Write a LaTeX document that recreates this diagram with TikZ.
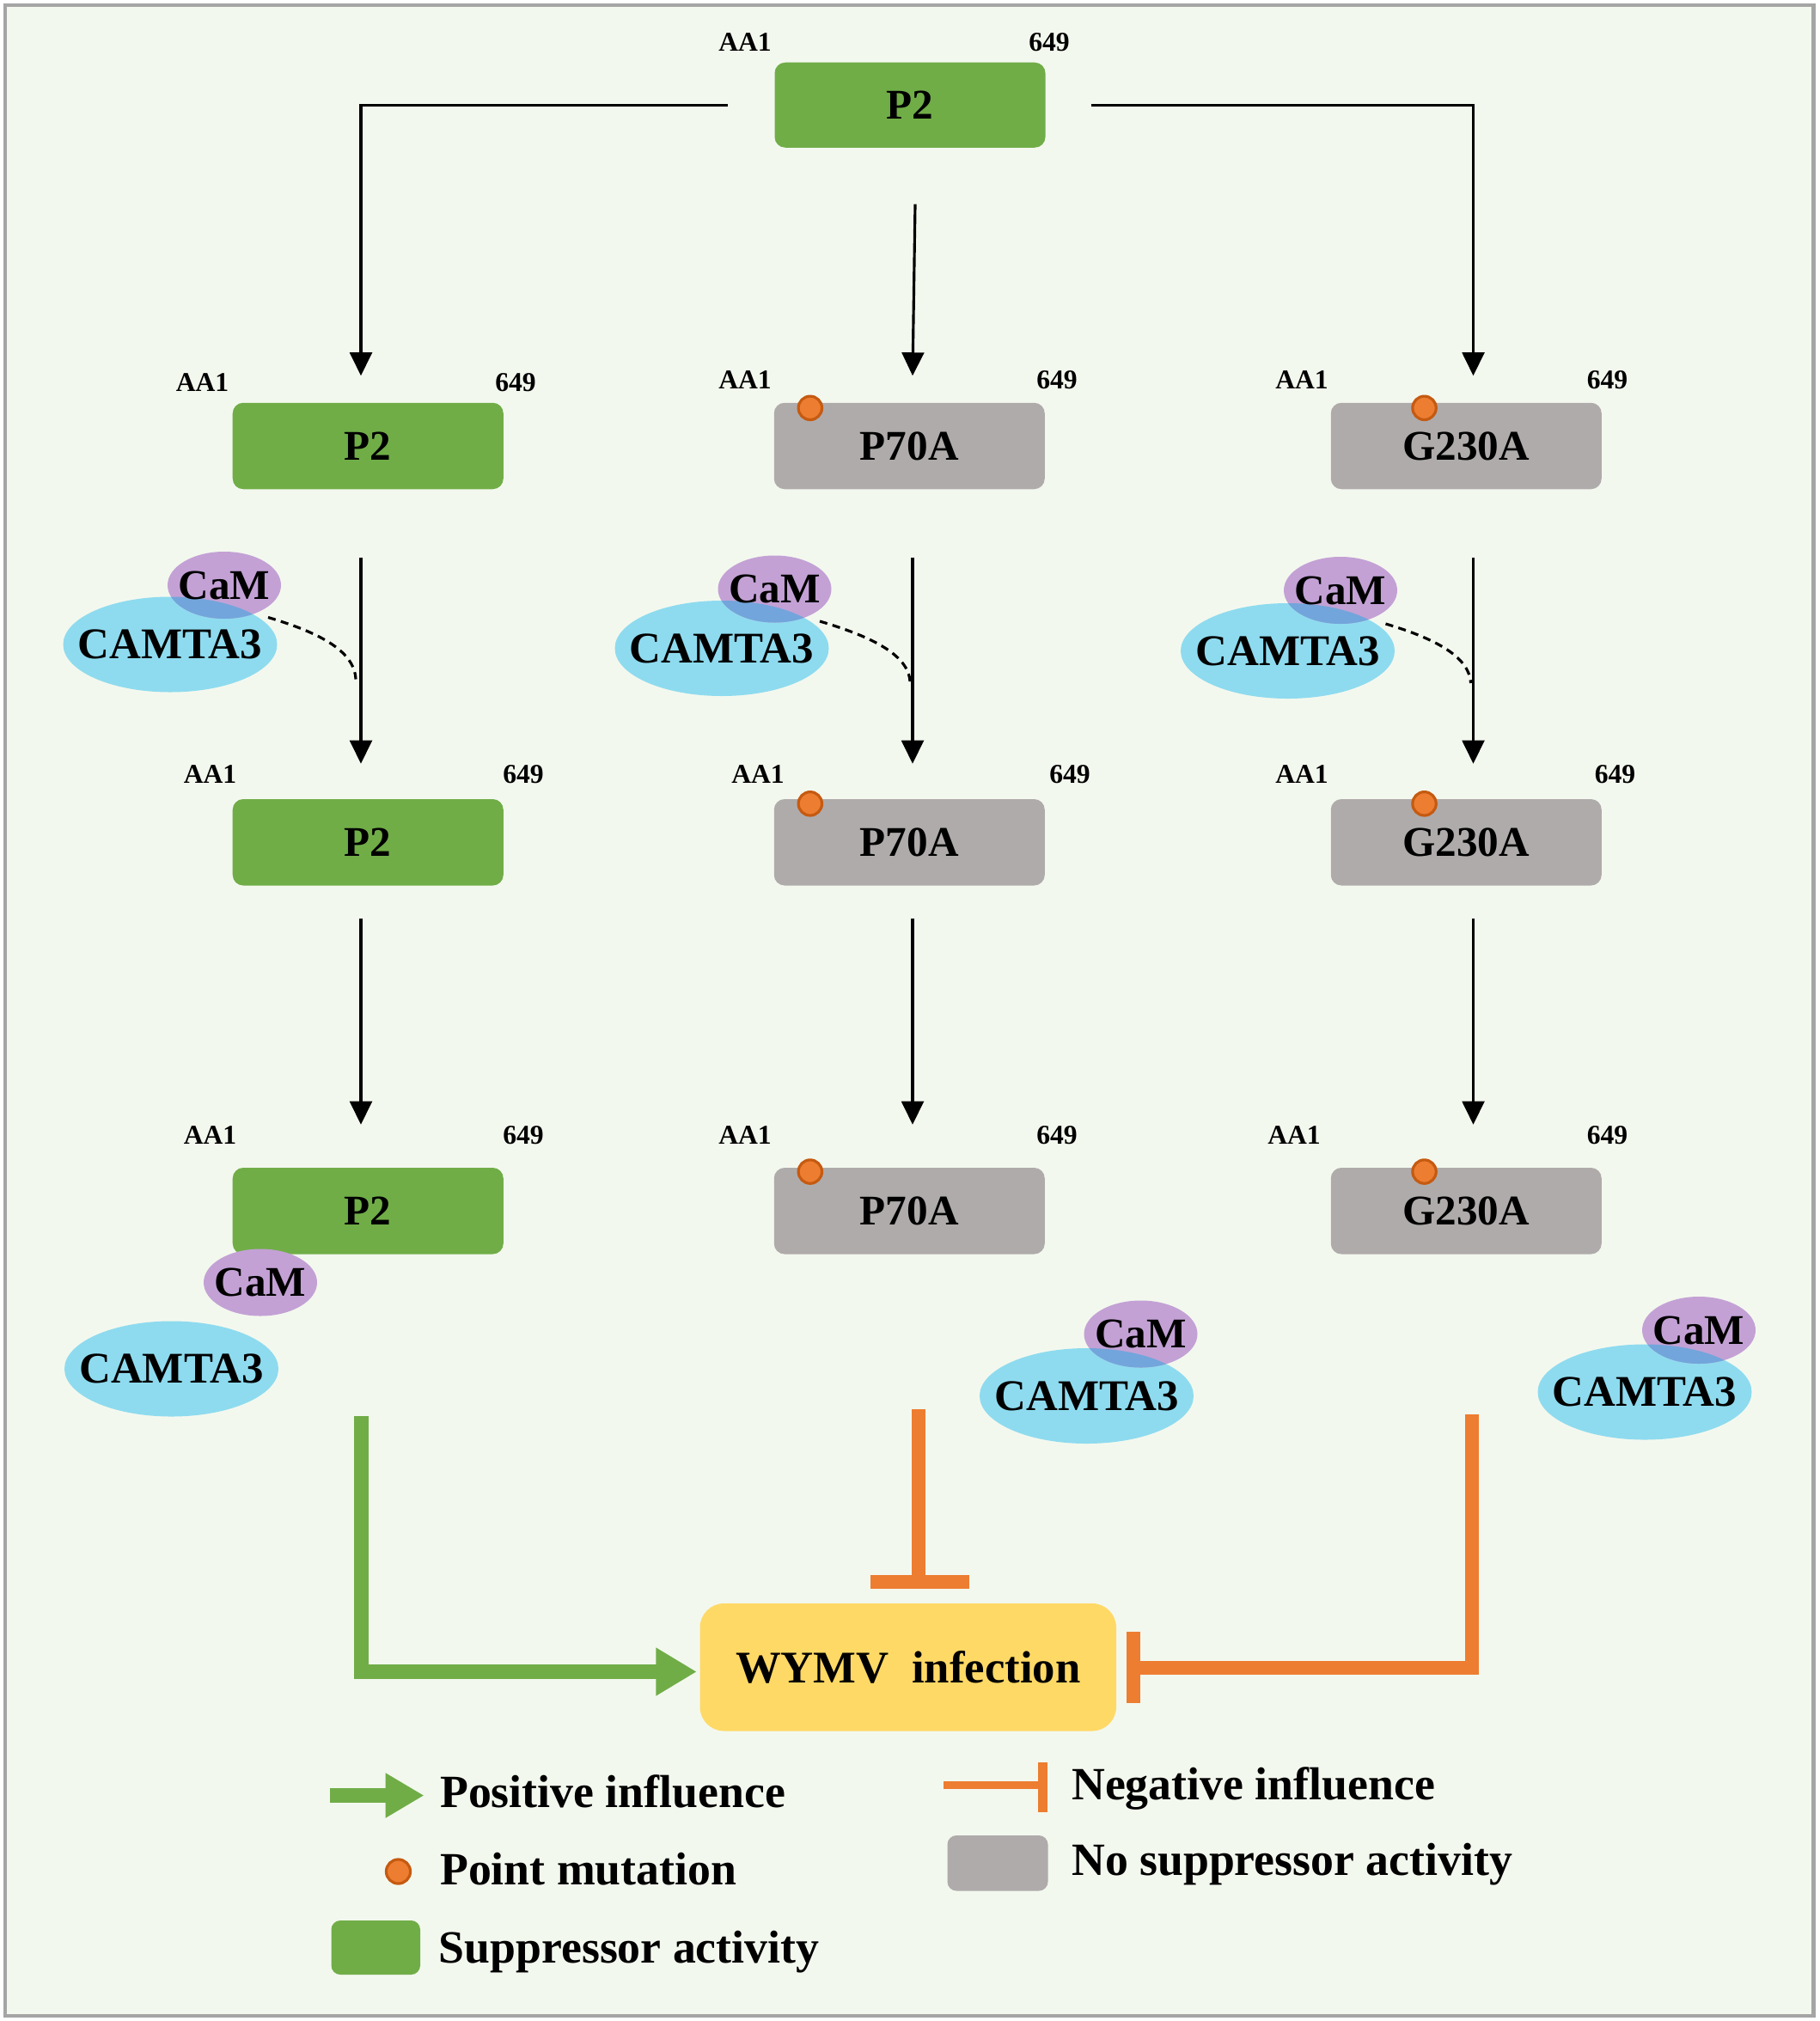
\documentclass[tikz,border=0pt]{standalone}
\usepackage{fontspec}
\setmainfont{Liberation Serif}
\usetikzlibrary{arrows.meta,shapes.geometric,calc}
\definecolor{bgc}{HTML}{F3F8EE}
\definecolor{frm}{HTML}{A5A5A5}
\definecolor{grn}{HTML}{70AD47}
\definecolor{gry}{HTML}{AFABAB}
\definecolor{org}{HTML}{ED7D31}
\definecolor{orgd}{HTML}{C55A11}
\definecolor{ylw}{HTML}{FFD966}
\definecolor{cblue}{HTML}{8EDBEF}
\definecolor{cpur}{HTML}{C3A1D5}
\definecolor{cmix}{HTML}{72A5DB}
\newcommand{\camplex}[5]{%
  \node[camta] (#1k) at (#2,#3) {};
  \node[cam] (#1m) at (#4,#5) {};
  \begin{scope}
    \clip (#2,#3) ellipse [x radius=83,y radius=37];
    \fill[cmix] (#4,#5) ellipse [x radius=44,y radius=26];
  \end{scope}
  \node[camtxt] (#1kt) at (#1k) {CAMTA3};
  \node[camtxtb] (#1mt) at (#1m) {CaM};
}
\begin{document}
\begin{tikzpicture}[x=0.015cm,y=-0.015cm,
  pbox/.style={rectangle,rounded corners=3.5pt,minimum width=3.15cm,minimum height=1.005cm,inner sep=0pt,font=\fontsize{14}{16}\selectfont\bfseries},
  supbox/.style={pbox,fill=grn},
  nobox/.style={pbox,fill=gry},
  aalab/.style={inner sep=0pt,font=\fontsize{9}{10}\selectfont\bfseries},
  mutdot/.style={circle,fill=org,draw=orgd,line width=0.9pt,minimum size=7.8pt,inner sep=0pt},
  camta/.style={ellipse,fill=cblue,minimum width=2.49cm,minimum height=1.11cm,inner sep=0pt},
  cam/.style={ellipse,fill=cpur,minimum width=1.32cm,minimum height=0.78cm,inner sep=0pt},
  camtxt/.style={inner sep=0pt,font=\fontsize{14.5}{16}\selectfont\bfseries},
  camtxtb/.style={inner sep=0pt,font=\fontsize{14}{16}\selectfont\bfseries},
  arr/.style={line width=0.9pt,-{Triangle[length=7.7pt,width=7.3pt]}},
  dsh/.style={line width=0.9pt,dash pattern=on 2.6pt off 1.8pt},
  posline/.style={grn,line width=4.8pt,-{Triangle[length=13.5pt,width=15pt]}},
  negline/.style={org,line width=4.6pt},
  legtxt/.style={inner sep=0pt,anchor=base west,font=\fontsize{15.3}{18}\selectfont\bfseries}
]
% background and frame
\fill[white] (0,0) rectangle (1412,1568);
\draw[frm,line width=1.3pt,fill=bgc] (4,4) rectangle (1407,1564);
\useasboundingbox (0,0) rectangle (1412,1568);

% boxes
\node[supbox,minimum height=0.99cm] (t) at (706,81.5) {P2};
\node[supbox] (a2) at (285.5,346) {P2};
\node[nobox]  (b2) at (705.5,346) {P70A};
\node[nobox]  (c2) at (1137.5,346) {G230A};
\node[supbox] (a3) at (285.5,653.5) {P2};
\node[nobox]  (b3) at (705.5,653.5) {P70A};
\node[nobox]  (c3) at (1137.5,653.5) {G230A};
\node[supbox] (a4) at (285.5,939.5) {P2};
\node[nobox]  (b4) at (705.5,939.5) {P70A};
\node[nobox]  (c4) at (1137.5,939.5) {G230A};

% AA1 / 649 labels
\node[aalab] (tA) at (578,33) {AA1};   \node[aalab] (tE) at (814,33) {649};
\node[aalab] (a2A) at (157,297) {AA1}; \node[aalab] (a2E) at (400,297) {649};
\node[aalab] (b2A) at (578,295) {AA1}; \node[aalab] (b2E) at (820,295) {649};
\node[aalab] (c2A) at (1010,295) {AA1};\node[aalab] (c2E) at (1247,295) {649};
\node[aalab] (a3A) at (163,601) {AA1}; \node[aalab] (a3E) at (406,601) {649};
\node[aalab] (b3A) at (588,601) {AA1}; \node[aalab] (b3E) at (830,601) {649};
\node[aalab] (c3A) at (1010,601) {AA1};\node[aalab] (c3E) at (1253,601) {649};
\node[aalab] (a4A) at (163,881) {AA1}; \node[aalab] (a4E) at (406,881) {649};
\node[aalab] (b4A) at (578,881) {AA1}; \node[aalab] (b4E) at (820,881) {649};
\node[aalab] (c4A) at (1004,881) {AA1};\node[aalab] (c4E) at (1247,881) {649};

% point mutations
\node[mutdot] (b2m) at ($(b2.north west)+(28.5,4.5)$) {};
\node[mutdot] (c2m) at ($(c2.north west)+(73,4.5)$) {};
\node[mutdot] (b3m) at ($(b3.north west)+(28.5,4)$) {};
\node[mutdot] (c3m) at ($(c3.north west)+(73,4)$) {};
\node[mutdot] (b4m) at ($(b4.north west)+(28.5,3.5)$) {};
\node[mutdot] (c4m) at ($(c4.north west)+(73,3.5)$) {};

% black arrows
\draw[arr] ($(t.west)+(-36,0)$) -| ($(a2.north)+(-5.5,-20.5)$);
\draw[arr] ($(t.east)+(35,0)$) -| ($(c2.north)+(5.5,-20.5)$);
\draw[arr] ($(t.south)+(4,43.5)$) -- ($(b2.north)+(2.5,-20.5)$);
\draw[arr] ($(a2.south)+(-5.5,52.5)$) -- ($(a3.north)+(-5.5,-27)$);
\draw[arr] ($(b2.south)+(2.5,52.5)$) -- ($(b3.north)+(2.5,-27)$);
\draw[arr] ($(c2.south)+(5.5,52.5)$) -- ($(c3.north)+(5.5,-27)$);
\draw[arr] ($(a3.south)+(-5.5,25)$) -- ($(a4.north)+(-5.5,-33)$);
\draw[arr] ($(b3.south)+(2.5,25)$) -- ($(b4.north)+(2.5,-33)$);
\draw[arr] ($(c3.south)+(5.5,25)$) -- ($(c4.north)+(5.5,-33)$);

% CAMTA3 / CaM complexes
\camplex{L}{132}{500}{174}{454}
\camplex{M}{560}{503}{601}{457}
\camplex{R}{999}{505}{1040}{458}
\camplex{LL}{133}{1062}{202}{995}
\camplex{MM}{843}{1083}{885}{1035}
\camplex{RR}{1276}{1080}{1318}{1032}

% dashed curves
\draw[dsh] ($(Lk)+(76,-21)$) .. controls ($(Lk)+(113,-10)$) and ($(Lk)+(143,4)$) .. ($(Lk)+(144,27)$);
\draw[dsh] ($(Mk)+(76,-21)$) .. controls ($(Mk)+(113,-10)$) and ($(Mk)+(145,4)$) .. ($(Mk)+(146,26)$);
\draw[dsh] ($(Rk)+(76,-21)$) .. controls ($(Rk)+(113,-10)$) and ($(Rk)+(141,4)$) .. ($(Rk)+(142,25)$);

% WYMV infection
\node[rectangle,rounded corners=8pt,fill=ylw,minimum width=4.845cm,minimum height=1.485cm,inner sep=0pt,font=\fontsize{15}{18}\selectfont\bfseries] (w) at (704.5,1293.5) {WYMV\ \ infection};

% influence connectors
\draw[posline] ($(a4.south)+(-5,125)$) |- ($(w.west)+(-2,3.5)$);
\draw[negline] ($(b4.south)+(7,120)$) -- ($(w.north)+(8,-16)$);
\draw[negline] ($(w.north)+(-29.5,-16)$) -- ($(w.north)+(47.5,-16)$);
\draw[negline] ($(c4.south)+(4.5,124)$) |- ($(w.east)+(13,0.5)$);
\draw[negline] ($(w.east)+(13,-27.5)$) -- ($(w.east)+(13,27.5)$);

% legend
\coordinate (lp1) at (256,1393);
\coordinate (lp2) at (329,1393);
\draw[grn,line width=5pt,-{Triangle[length=12.8pt,width=14pt]}] (lp1) -- (lp2);
\node[legtxt] (lpt) at (341,1402) {Positive influence};
\node[mutdot,minimum size=8pt] (ldot) at (309,1452) {};
\node[legtxt] (ldt) at (341,1462) {Point mutation};
\node[rectangle,rounded corners=3pt,fill=grn,minimum width=1.035cm,minimum height=0.63cm,inner sep=0pt] (lsup) at (291.5,1511) {};
\node[legtxt] (lst) at (340,1523) {Suppressor activity};
\coordinate (ln1) at (732,1385);
\coordinate (ln2) at (809,1385);
\coordinate (lb1) at (809,1367);
\coordinate (lb2) at (809,1406);
\draw[org,line width=2.6pt] (ln1) -- (ln2);
\draw[org,line width=3pt] (lb1) -- (lb2);
\node[legtxt] (lnt) at (831,1396) {Negative influence};
\node[rectangle,rounded corners=3pt,fill=gry,minimum width=1.17cm,minimum height=0.645cm,inner sep=0pt] (lno) at (774,1445.5) {};
\node[legtxt] (lnot) at (831,1455) {No suppressor activity};
\end{tikzpicture}
\end{document}
